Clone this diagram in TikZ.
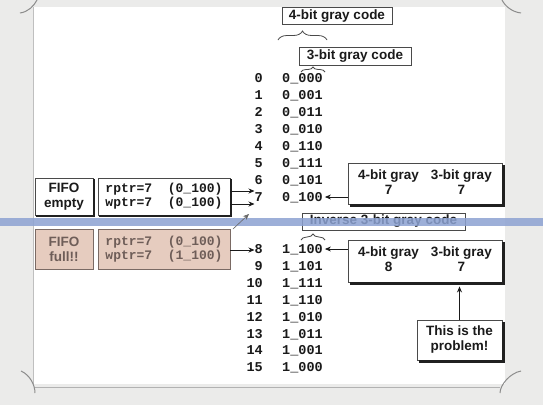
\documentclass[tikz,border=0pt]{standalone}
\usepackage{fontspec}
\setmainfont{Liberation Sans}
\newfontfamily\monofont{Liberation Mono}
\usetikzlibrary{arrows.meta,decorations.pathreplacing}
\definecolor{bgc}{HTML}{EBEBEA}
\definecolor{bandc}{RGB}{140,162,210}
\definecolor{pinkfill}{HTML}{E6CCBF}
\definecolor{pinktext}{HTML}{6E5D58}
\definecolor{pinkbord}{HTML}{7A6A64}
\definecolor{bord}{HTML}{4A4A4A}
\definecolor{ink}{HTML}{1A1A1A}
\definecolor{shadowc}{HTML}{202020}
\newcommand\mkshadow[2]{%
  \fill[shadowc] ([yshift=-#2]#1.north east) rectangle ([xshift=#2,yshift=-#2]#1.south east);
  \fill[shadowc] ([xshift=#2]#1.south west) rectangle ([xshift=#2,yshift=-#2]#1.south east);}
\tikzset{
  sans/.style={font=\fontsize{13.5}{15}\selectfont\bfseries, text=ink},
  mono/.style={font=\fontsize{13}{14}\selectfont\monofont\bfseries, text=ink},
  lbl/.style={sans, draw=bord, line width=0.9pt, fill=white, inner sep=0pt},
  shbox/.style={draw=bord, line width=0.9pt, fill=white, inner sep=0pt},
  pinkbox/.style={draw=pinkbord, line width=0.9pt, fill=pinkfill, inner sep=0pt, text=pinktext},
  idx/.style={font=\fontsize{13.5}{14}\selectfont\monofont\bfseries, text=ink,
    anchor=east, inner sep=0pt, text height=9pt, text depth=0pt},
  code/.style={idx, anchor=west},
  arr/.style={draw=ink, line width=0.8pt, -{Stealth[length=6pt,width=5pt]}},
  brc/.style={draw=bord, line width=0.8pt, decorate},
  curl/.style={draw=black!45, line width=1pt}
}
\begin{document}
\begin{tikzpicture}[x=1pt,y=-1pt]
\useasboundingbox (0,0) rectangle (543,405);
% page
\fill[bgc] (0,0) rectangle (543,405);
\fill[white] (33,7) rectangle (505,384);
\draw[black!25, line width=0.5pt] (33,7) -- (33,384);
\draw[black!30, line width=0.8pt] (35,387) -- (500,387);
\draw[curl] (20,13) .. controls (28,12) and (34,6) .. (37,0);
\draw[curl] (502,0) .. controls (505,6) and (512,12) .. (521,13);
\draw[curl] (21,371) .. controls (30,375) and (35,385) .. (35,393);
\draw[curl] (500,393) .. controls (500,385) and (510,373) .. (521,371);

% headers
\node[lbl, minimum width=110pt, minimum height=17pt] (top4) at (337,16) {4-bit gray code};
\node[lbl, minimum width=112pt, minimum height=18pt] (top3) at (355,56) {3-bit gray code};
\draw[brc, decoration={brace, amplitude=9pt}] (278,40) -- (327,40);
\draw[brc, decoration={brace, amplitude=5pt}] (301,72) -- (325,72);

% table
\foreach \n/\y/\c in {0/78/0\_000, 1/95/0\_001, 2/112/0\_011, 3/129/0\_010,
  4/146/0\_110, 5/163/0\_111, 6/180/0\_101, 7/197/0\_100,
  8/249/1\_100, 9/266/1\_101, 10/283/1\_111, 11/300/1\_110,
  12/317/1\_010, 13/334/1\_011, 14/350/1\_001, 15/367/1\_000}{
  \node[idx] (i\n) at (263,\y) {\n};
  \node[code] (c\n) at (282,\y) {\c};
}

% inverse label
\node[lbl, minimum width=163pt, minimum height=17pt] (inv) at (383.5,221.5) {Inverse 3-bit gray code};
\draw[brc, decoration={brace, amplitude=6pt}] (301,240) -- (325,240);

% left boxes
\node[shbox, sans, align=center, minimum width=58pt, minimum height=37pt] (f1) at (64,196.5) {FIFO\\empty};
\mkshadow{f1}{1.3pt}
\node[shbox, mono, align=left, minimum width=132pt, minimum height=37pt] (r1) at (164,196.5)
  {rptr=7\ \ (0\_100)\\wptr=7\ \ (0\_100)};
\mkshadow{r1}{1.3pt}
\node[pinkbox, sans, text=pinktext, align=center, minimum width=58pt, minimum height=40pt] (f2) at (64,249.5) {FIFO\\full!!};
\node[pinkbox, mono, text=pinktext, align=left, minimum width=132pt, minimum height=40pt] (r2) at (164,249.5)
  {rptr=7\ \ (0\_100)\\wptr=7\ \ (1\_100)};

% right boxes
\node[shbox, sans, minimum width=154pt, minimum height=41pt] (g1) at (425,183.5)
  {\setlength\tabcolsep{6pt}\begin{tabular}{cc}4-bit gray & 3-bit gray\\7 & 7\end{tabular}};
\mkshadow{g1}{2.4pt}
\node[shbox, sans, minimum width=154pt, minimum height=42pt] (g2) at (425,261)
  {\setlength\tabcolsep{6pt}\begin{tabular}{cc}4-bit gray & 3-bit gray\\8 & 7\end{tabular}};
\mkshadow{g2}{2.4pt}
\node[shbox, sans, align=center, minimum width=85pt, minimum height=40pt] (prob) at (459.5,340)
  {This is the\\problem!};
\mkshadow{prob}{2.4pt}

% band
\fill[bandc, opacity=0.85] (0,218) rectangle (543,226);

% arrows
\draw[arr] (r1.east |- 0,191) -- (i7.west |- 0,191);
\draw[arr] (r1.east |- 0,204) -- (i7.west |- 0,204);
\draw[arr] (r2.east |- 0,250) -- (i8.west |- 0,250);
\draw[arr] (g1.west |- c7) -- ([xshift=2pt]c7.east);
\draw[arr] (g2.west |- c8) -- ([xshift=2pt]c8.east);
\draw[arr, shorten >=4pt] (prob.north) -- (prob.north |- g2.south);
\coordinate (d1) at (233,229);
\coordinate (d2) at (249,214);
\draw[arr, draw=black!60, line width=0.6pt] (d1) -- (d2);
\end{tikzpicture}
\end{document}
